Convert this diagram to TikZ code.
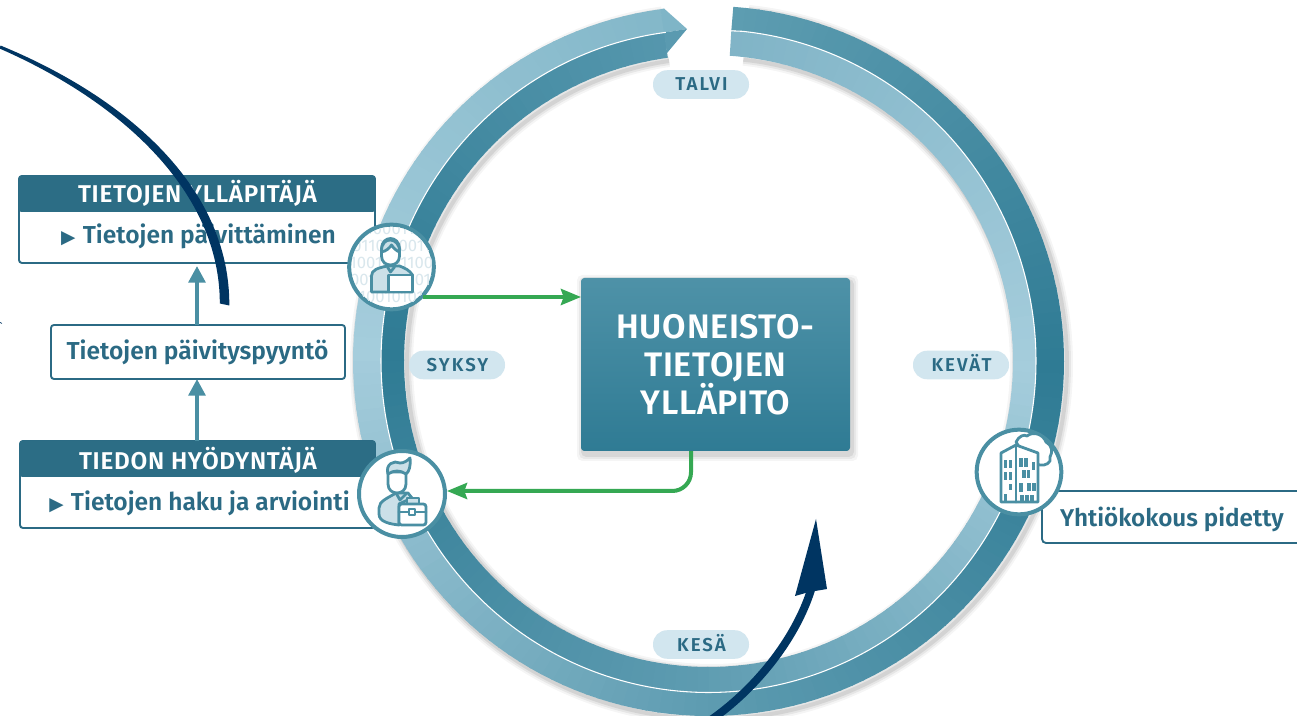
\documentclass[tikz,border=0pt]{standalone}
\usepackage{fontspec}
\setmainfont{Fira Sans}
\newfontfamily\tri{DejaVu Sans}
\newfontfamily\bodyf{Fira Sans SemiBold}
\newfontfamily\headf{Fira Sans SemiBold}[LetterSpace=3]
\newfontfamily\pillf{Fira Sans SemiBold}[LetterSpace=11]
\newfontfamily\coref{Fira Sans SemiBold}[LetterSpace=2]
\usetikzlibrary{arrows.meta,calc}
\definecolor{tealtxt}{HTML}{2B6A84}
\definecolor{headfill}{HTML}{2C6D85}
\definecolor{iconc}{HTML}{4A8FA3}
\definecolor{iconlt}{HTML}{CBE0E8}
\definecolor{pillc}{HTML}{D2E6EF}
\definecolor{greenc}{HTML}{35A853}
\definecolor{navy}{HTML}{003562}
\definecolor{binc}{HTML}{D9E7ED}
\definecolor{Oa}{HTML}{5F9EB2}\definecolor{Ob}{HTML}{2F7B94}\definecolor{Oc}{HTML}{5E9CB1}\definecolor{Od}{HTML}{A5CDDC}\definecolor{Oe}{HTML}{7FB5C7}
\definecolor{Ia}{HTML}{7FB3C6}\definecolor{Ib}{HTML}{A5CDDC}\definecolor{Ic}{HTML}{5E9CB1}\definecolor{Id}{HTML}{2F7B94}\definecolor{Ie}{HTML}{5A9AB0}
\newcommand{\cxx}{708.5}\newcommand{\cyy}{361}
\newcommand{\bullt}{\smash{\tri\fontsize{14}{14}\selectfont ▶}\hspace{5.5pt}}
\tikzset{
 x=0.75pt,y=-0.75pt,
 boxw/.style={draw=tealtxt,line width=1.4pt,fill=white,rounded corners=2.2pt,outer sep=0pt,inner sep=0pt,anchor=north west},
 headtxt/.style={text=white,font=\headf\fontsize{18.2}{20}\selectfont,inner sep=0pt,anchor=base},
 bodytxt/.style={text=tealtxt,font=\bodyf\fontsize{18.4}{20}\selectfont,inner sep=0pt,anchor=base},
 pill/.style={fill=pillc,rounded corners=10.5pt,minimum width=72pt,minimum height=21.4pt,inner sep=0pt},
 pilltxt/.style={text=tealtxt,font=\pillf\fontsize{14}{14}\selectfont,inner sep=0pt,anchor=base},
 upar/.style={draw=iconc,line width=3pt,-{Triangle[length=12.5pt,width=12.5pt]}},
 grn/.style={draw=greenc,line width=3pt,-{Stealth[length=15pt,width=12pt,inset=2pt]},rounded corners=14pt},
 badge/.style={draw=iconc,line width=3pt,fill=white,circle,inner sep=0pt},
 ic/.style={draw=iconc,line width=2.1pt,line join=round,line cap=round},
 navyline/.style={draw=navy,line width=6pt},
}
\begin{document}
\begin{tikzpicture}
\useasboundingbox (0,0) rectangle (1297,716);
\fill[white] (0,0) rectangle (1297,716);
% ring shadow
\foreach \w/\o in {9/.04,6/.06,3/.08}{
 \draw[black,opacity=\o,line width=\w pt] plot[domain=-262:84,samples=160,smooth] ({\cxx+3+355.5*cos(\x)},{\cyy+3-355*sin(\x)});
 \draw[black,opacity=\o,line width=\w pt] plot[domain=-262:84,samples=160,smooth] ({\cxx+3+304.5*cos(\x)},{\cyy+3-306*sin(\x)});
}
% ring segments
\foreach \t in {4,6,...,350}{
 \pgfmathtruncatemacro\sg{floor(\t/90)}
 \pgfmathtruncatemacro\pc{100*(\t-90*\sg)/90}
 \ifcase\sg
  \colorlet{co}{Ob!\pc!Oa}\colorlet{ci}{Ib!\pc!Ia}\or
  \colorlet{co}{Oc!\pc!Ob}\colorlet{ci}{Ic!\pc!Ib}\or
  \colorlet{co}{Od!\pc!Oc}\colorlet{ci}{Id!\pc!Ic}\or
  \colorlet{co}{Oe!\pc!Od}\colorlet{ci}{Ie!\pc!Id}\fi
 \pgfmathsetmacro\aa{90-\t}\pgfmathsetmacro\bb{90-\t-2.3}\pgfmathsetmacro\ab{90-\t-1.15}
 \fill[co] ({\cxx+355.5*cos(\aa)},{\cyy-355*sin(\aa)}) -- ({\cxx+355.5*cos(\ab)},{\cyy-355*sin(\ab)}) -- ({\cxx+355.5*cos(\bb)},{\cyy-355*sin(\bb)}) -- ({\cxx+327.5*cos(\bb)},{\cyy-331.5*sin(\bb)}) -- ({\cxx+327.5*cos(\aa)},{\cyy-331.5*sin(\aa)}) -- cycle;
 \fill[ci] ({\cxx+327.5*cos(\aa)},{\cyy-331.5*sin(\aa)}) -- ({\cxx+327.5*cos(\bb)},{\cyy-331.5*sin(\bb)}) -- ({\cxx+304.5*cos(\bb)},{\cyy-306*sin(\bb)}) -- ({\cxx+304.5*cos(\ab)},{\cyy-306*sin(\ab)}) -- ({\cxx+304.5*cos(\aa)},{\cyy-306*sin(\aa)}) -- cycle;
}
% arrow tip of the ring
\fill[Oe] (660.5,9.2) -- (664,8.5) -- (687,29) -- (664,32.6) -- cycle;
\fill[Ie] (664,32.6) -- (687,29) -- (665,55.5) -- (667.5,57.7) -- cycle;
% white hairline
\draw[white,line width=.8pt] plot[domain=-262.5:84,samples=200,smooth] ({\cxx+327.5*cos(\x)},{\cyy-331.5*sin(\x)}) -- (687,29);
% boxes
\node[boxw,minimum width=267pt,minimum height=65.25pt] (b1) at (19,176) {};
\fill[headfill,rounded corners=2.2pt] (18.5,175.5) rectangle (375.5,212);
\node[headtxt] (h1) at (197.5,202.7) {TIETOJEN YLLÄPITÄJÄ};
\node[bodytxt] (t1) at (198.5,244) {\bullt Tietojen päivittäminen};
\node[boxw,minimum width=220.5pt,minimum height=40.5pt] (b2) at (51,325) {};
\node[bodytxt] (t2) at (197.5,360) {Tietojen päivityspyyntö};
\node[boxw,minimum width=266.25pt,minimum height=65.25pt] (b3) at (20,441) {};
\fill[headfill,rounded corners=2.2pt] (19.5,440.5) rectangle (375.5,477);
\node[headtxt] (h3) at (198,470) {TIEDON HYÖDYNTÄJÄ};
\node[bodytxt] (t3) at (199.5,510.7) {\bullt Tietojen haku ja arviointi};
\coordinate (a1) at (197,266);
\draw[upar] (b2.north -| a1) -- (a1);
\draw[upar] (b3.north -| a1) -- (b2.south -| a1);
% pills
\node[pill] (talvi) at (701,84.5) {};\node[pilltxt] at (701.5,90.7) {TALVI};
\node[pill] (kesa) at (701,644.5) {};\node[pilltxt] at (701.5,652) {KESÄ};
\node[pill] (syksy) at (457,365) {};\node[pilltxt] at (457.5,372) {SYKSY};
\node[pill] (kevat) at (961,365) {};\node[pilltxt] at (961.5,372) {KEVÄT};
% central box
\foreach \d/\o in {7/.04,5/.05,3/.07}{\fill[black,opacity=\o,rounded corners=4pt] (581-\d+3,278-\d+4) rectangle (850+\d+1,451+\d+3);}
\node[anchor=north west,minimum width=201.75pt,minimum height=129.75pt,inner sep=0pt,outer sep=0pt,rounded corners=2.5pt,top color=Oa!65!Ob,bottom color=Ob,text=white,font=\coref\fontsize{25.5}{28.65}\selectfont,align=center] (core) at (581,278) {HUONEISTO-\\TIETOJEN\\YLLÄPITO};
% yhtiokokous
\draw[tealtxt,line width=1.4pt,rounded corners=3pt,fill=white] (1297,491) -- (1042,491) -- (1042,543) -- (1297,543);
\node[bodytxt,font=\bodyf\fontsize{18.2}{20}\selectfont] (t4) at (1172,526.7) {Yhtiökokous pidetty};
% badges
\node[badge,minimum size=63.5pt] (ic1) at (391.5,267) {};
\node[badge,minimum size=64.5pt] (ic2) at (402,494) {};
\node[badge,minimum size=63.5pt] (ic3) at (1019,472) {};
% green connectors
\coordinate (g1s) at (423,297);
\coordinate (g2m) at (691,491);
\draw[grn] (g1s) -- (core.west |- g1s);
\draw[grn] (core.south -| g2m) -- (g2m) -- (ic2.east |- g2m);
% icon 1
\begin{scope}
\clip (ic1.center) circle (30.4pt);
\foreach \yy/\s in {-38/0110100,-21/1001101,-4/0110010,13/1100110,30/0101001}{
 \node[text=binc,font=\fontsize{12.5}{12.5}\selectfont,inner sep=0pt] at ($(ic1.center)+(0,\yy)$) {\s\s};
}
\end{scope}
\begin{scope}[shift={(391.5,267)}]
\draw[ic,fill=iconlt] (-20,25) -- (-20,9) .. controls (-20,3) and (-14,1) .. (-4,-1) -- (8,-1) .. controls (13,1) and (18,3) .. (21,8) -- (21,25) -- cycle;
\draw[ic,fill=white] (-3,8) rectangle (21,25);
\draw[ic,fill=white] (-10,-18) .. controls (-10,-32) and (8,-32) .. (8,-18) -- (8,-11) .. controls (8,1) and (-10,1) .. (-10,-11) -- cycle;
\draw[ic,fill=iconlt] (-10,-15) .. controls (-5,-16) and (-2,-19) .. (0,-22) .. controls (2,-19) and (5,-16) .. (8,-15) .. controls (9,-30) and (-11,-32) .. (-10,-15) -- cycle;
\draw[ic] (-4,0) -- (-1,5) -- (3,0);
\end{scope}
% icon 2
\begin{scope}[shift={(402,494)}]
\draw[ic,fill=iconlt] (-3,31) .. controls (-12,30) and (-23,28) .. (-23,20) -- (-23,14) .. controls (-23,7) and (-14,4) .. (-6,-1) -- (6,-1) -- (10,4) -- (-3,10) -- cycle;
\draw[ic] (-6,-1) -- (-2,6) -- (4,0);
\draw[ic,fill=white] (-14,-22) -- (-14,-10) .. controls (-14,2) and (4,2) .. (4,-10) -- (4,-22) -- cycle;
\draw[ic,fill=iconlt] (-14,-20) .. controls (-17,-30) and (-8,-34) .. (-2,-31) .. controls (2,-31) and (5,-33) .. (8,-36) .. controls (9,-28) and (7,-22) .. (4,-20) .. controls (-2,-24) and (-8,-24) .. (-14,-20) -- cycle;
\draw[ic,fill=iconlt] (5,10) -- (5,4) -- (17,4) -- (17,10);
\draw[ic,fill=white,rounded corners=2pt] (-3,10) rectangle (24,31);
\draw[ic] (-3,18) -- (24,18);
\draw[ic,fill=white] (7,15) rectangle (13,21);
\end{scope}
% icon 3
\begin{scope}[shift={(1019,472)}]
\draw[ic,fill=white] (-3,-30) .. controls (0,-36) and (5,-38) .. (8,-36) .. controls (14,-41) and (24,-38) .. (27,-30) .. controls (33,-27) and (34,-20) .. (31,-15) .. controls (33,-9) and (26,-6) .. (21,-7) -- (10,-10) -- cycle;
\draw[ic,fill=white] (-18,-19) -- (-3,-27) -- (19,-19) -- (19,30) -- (-18,30) -- cycle;
\draw[ic] (-3,-27) -- (-3,30);
\foreach \px/\py/\ph in {-13.5/-12/8,-8.5/-12/8,-13.5/0/8,-8.5/0/8,-8.5/12/6,-13.5/22/8,2/-14/9,7/-14/9,14.5/-10/8,5/-2/8,9.5/-2/8,2/11/9,10/11/8,15/11/8,3/23/6,8/23/6,13/23/6}{
 \fill[iconc] (\px-1.8,\py) rectangle (\px+1.8,\py+\ph);
}
\end{scope}
% small mark at the left edge
\coordinate (m0) at (0,322.5);\coordinate (m1) at (2,323.5);
\draw[navy,line width=.5pt] (m0) -- (m1);
% navy curves
\fill[navy] (0.7,45.6) .. controls (128,98) and (230,188) .. (229.3,305.5) -- (219.8,303.5) .. controls (220,192) and (122,102) .. (-0.7,48.4) -- cycle;
\coordinate (n2a) at (708,722);\coordinate (n2b) at (811,590);
\draw[navyline] (n2a) .. controls (755,690) and (795,640) .. (n2b);
\fill[navy] (816,519) -- (827,589) -- (809,592) -- (795,596) -- cycle;
\end{tikzpicture}
\end{document}
